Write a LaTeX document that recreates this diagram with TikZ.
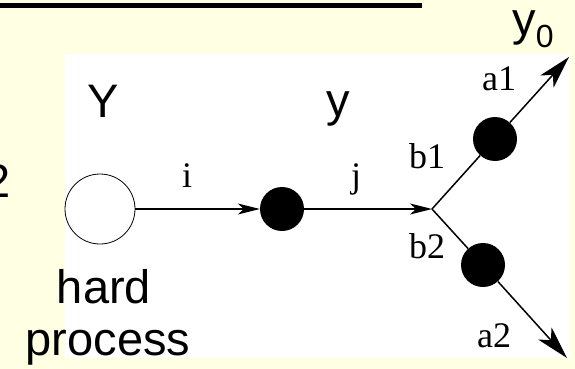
\documentclass[tikz,border=0pt]{standalone}
\usepackage{fontspec}
\setmainfont{Liberation Serif}
\newfontfamily\arialfont{Liberation Sans}
\usetikzlibrary{arrows.meta}
\definecolor{slideyellow}{RGB}{255,255,228}

\tikzset{
    hollowdot/.style={circle, draw, line width=0.8pt, fill=white, minimum size=70pt, inner sep=0pt},
    fulldot/.style={circle, fill=black, minimum size=44pt, inner sep=0pt},
    sanslabel/.style={font=\arialfont\fontsize{47}{54}\selectfont, inner sep=0pt, anchor=base},
    seriflabel/.style={font=\fontsize{36}{40}\selectfont, inner sep=0pt, anchor=base},
    midarrow/.style={line width=1.5pt, -{Stealth[length=22pt, width=11pt, inset=6pt]}},
    outarrow/.style={line width=1.5pt, -{Stealth[length=33pt, width=18pt, inset=9pt]}},
    leg/.style={line width=1.5pt}
}

\begin{document}
\begin{tikzpicture}[x=1pt, y=-1pt]
    % Slide background
    \fill[slideyellow] (0,0) rectangle (575,369);
    \useasboundingbox (0,0) rectangle (575,369);
    \fill[white] (65,54) rectangle (570,358);
    \fill[black] (0,3) rectangle (422,8);

    % Big labels
    \node[sanslabel, anchor=base east] (two) at (11,197) {2};
    \node[sanslabel] (Ylab) at (103,117) {Y};
    \node[sanslabel] (ylab) at (338,116) {y};
    \node[sanslabel] (y0lab) at (533,36) {y\raisebox{-12pt}{\fontsize{32}{32}\selectfont 0}};
    \node[sanslabel] (hardtxt) at (104,303) {hard};
    \node[sanslabel] (proctxt) at (108,355) {process};

    % Vertices
    \node[hollowdot] (hp) at (100,209) {};
    \node[fulldot] (d0) at (282,209) {};
    \coordinate (junc) at (432,209);
    \node[fulldot] (d1) at (495,139) {};
    \node[fulldot] (d2) at (483,265) {};
    \coordinate (e1) at (569,57);
    \coordinate (e2) at (567,358);

    % Lines
    \draw[midarrow] (hp) -- (d0);
    \draw[midarrow] (d0) -- (junc);
    \draw[leg] (junc) -- (d1);
    \draw[leg] (junc) -- (d2);
    \draw[outarrow] (d1) -- (e1);
    \draw[outarrow] (d2) -- (e2);

    % Line labels
    \node[seriflabel] (ilab) at (187,187) {i};
    \node[seriflabel] (jlab) at (356,187) {j};
    \node[seriflabel] (b1lab) at (427,168) {b1};
    \node[seriflabel] (b2lab) at (427,258) {b2};
    \node[seriflabel] (a1lab) at (499,90) {a1};
    \node[seriflabel] (a2lab) at (494,347) {a2};
\end{tikzpicture}
\end{document}
